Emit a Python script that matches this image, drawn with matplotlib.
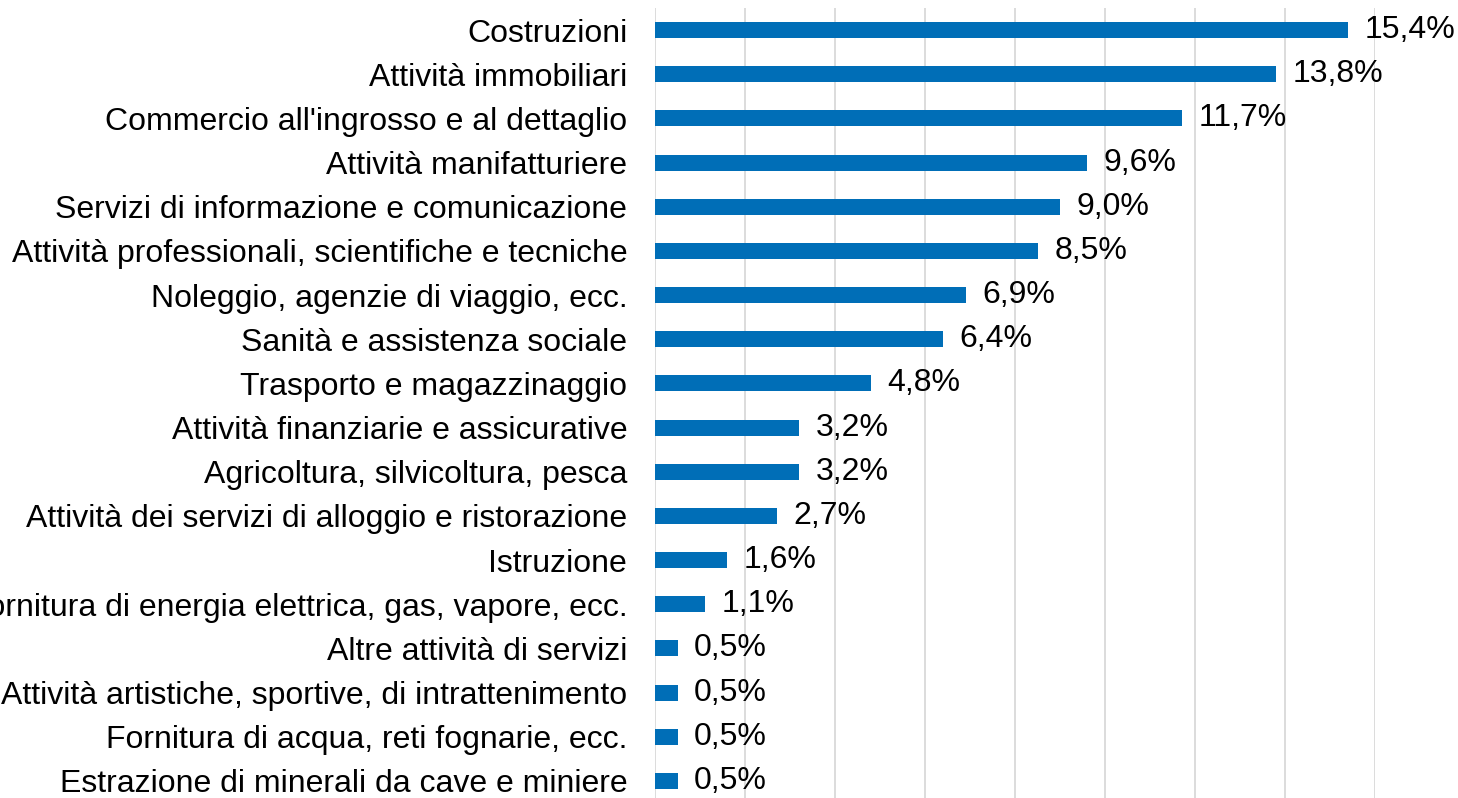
import matplotlib
matplotlib.use("Agg")
import matplotlib.pyplot as plt

plt.rcParams['font.family'] = ['Liberation Sans', 'DejaVu Sans']

categories = [
    "Costruzioni",
    "Attività immobiliari",
    "Commercio all'ingrosso e al dettaglio",
    "Attività manifatturiere",
    "Servizi di informazione e comunicazione",
    "Attività professionali, scientifiche e tecniche",
    "Noleggio, agenzie di viaggio, ecc.",
    "Sanità e assistenza sociale",
    "Trasporto e magazzinaggio",
    "Attività finanziarie e assicurative",
    "Agricoltura, silvicoltura, pesca",
    "Attività dei servizi di alloggio e ristorazione",
    "Istruzione",
    "Fornitura di energia elettrica, gas, vapore, ecc.",
    "Altre attività di servizi",
    "Attività artistiche, sportive, di intrattenimento",
    "Fornitura di acqua, reti fognarie, ecc.",
    "Estrazione di minerali da cave e miniere",
]
values = [15.4, 13.8, 11.7, 9.6, 9.0, 8.5, 6.9, 6.4, 4.8, 3.2, 3.2, 2.7, 1.6, 1.1, 0.5, 0.5, 0.5, 0.5]
value_labels = ["15,4%", "13,8%", "11,7%", "9,6%", "9,0%", "8,5%", "6,9%", "6,4%", "4,8%",
                "3,2%", "3,2%", "2,7%", "1,6%", "1,1%", "0,5%", "0,5%", "0,5%", "0,5%"]

W, H = 1458, 798
fig = plt.figure(figsize=(W / 100, H / 100), dpi=100)
left = 655 / W
right = 1375 / W
top_px = 8
bottom_px = 803
ax = fig.add_axes([left, 1 - bottom_px / H, right - left, (bottom_px - top_px) / H])

FS = 23
ypos = list(range(len(categories)))
ax.barh(ypos, values, height=0.36, color="#006EB7", zorder=3)
ax.set_ylim(len(categories) - 0.5, -0.5)
ax.set_xlim(0, 16)
ax.set_xticks([0, 2, 4, 6, 8, 10, 12, 14, 16])
ax.xaxis.grid(True, color="#D9D9D9", linewidth=1.3, zorder=0)
ax.tick_params(axis='x', length=0, labelbottom=False)
ax.tick_params(axis='y', length=0, pad=20, labelsize=FS)
ax.set_yticks(ypos)
ax.set_yticklabels(categories, fontsize=FS)
for s in ax.spines.values():
    s.set_visible(False)

for y, v, lab in zip(ypos, values, value_labels):
    ax.annotate(lab, xy=(v, y), xytext=(12, 0), textcoords="offset points",
                va="center", ha="left", fontsize=FS, color="black", annotation_clip=False)

fig.savefig("out.png", dpi=100, facecolor="white")
